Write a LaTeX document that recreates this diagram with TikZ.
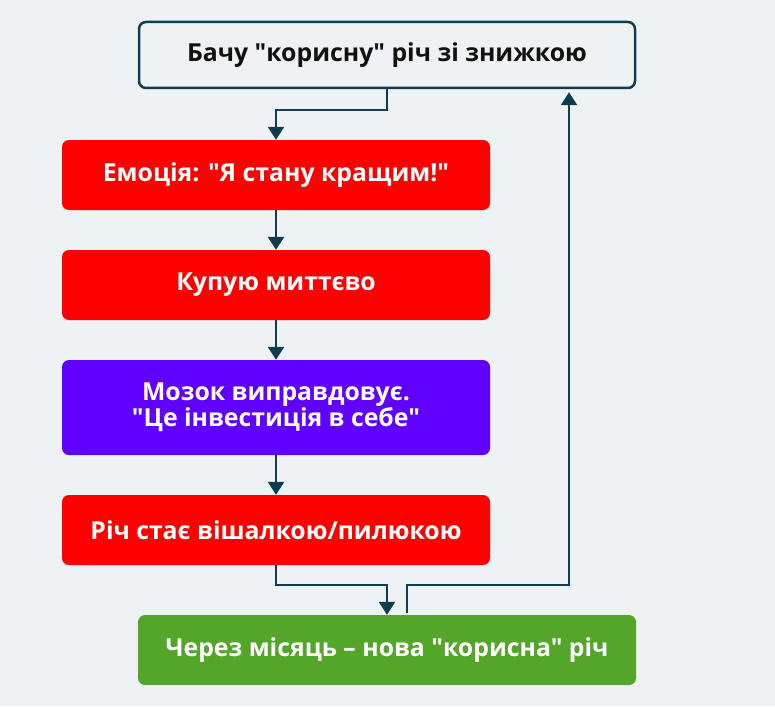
\documentclass[tikz,border=0pt]{standalone}
\usepackage{fontspec}
\setmainfont{Open Sans}[Ligatures=TeXOff]
\usetikzlibrary{arrows.meta,calc}
\definecolor{bgc}{HTML}{EFF2F4}
\definecolor{teal}{HTML}{0F3D4F}
\definecolor{redc}{HTML}{FF0000}
\definecolor{purc}{HTML}{6000FF}
\definecolor{grnc}{HTML}{53A62A}
\definecolor{txtd}{HTML}{111111}
\begin{document}
\begin{tikzpicture}[x=1pt,y=-1pt,
  box/.style={rounded corners=7pt, inner sep=0pt, align=center,
    font=\bfseries\fontsize{24.8}{25}\selectfont},
  outl/.style={box, draw=teal, line width=2.5pt, fill=bgc, text=txtd,
    minimum width=496pt, minimum height=66pt},
  redbox/.style={box, fill=redc, text=white, minimum width=428pt, minimum height=70pt},
  purbox/.style={box, fill=purc, text=white, minimum width=428pt, minimum height=95pt},
  grnbox/.style={box, fill=grnc, text=white, minimum width=498pt, minimum height=70pt},
  conn/.style={draw=teal, line width=2.5pt},
  arr/.style={conn, -{Triangle[width=16pt,length=13pt]}}]
\fill[bgc] (0,0) rectangle (775,706);
\useasboundingbox (0,0) rectangle (775,706);

\node[outl] (top) at (387,55) {Бачу "корисну" річ зі знижкою};
\node[redbox] (r1) at (276,175) {Емоція: "Я стану кращим!"};
\node[redbox] (r2) at (276,285) {Купую миттєво};
\node[purbox] (p) at (276,407.5) {Мозок виправдовує.\\"Це інвестиція в себе"};
\node[redbox] (r3) at (276,530) {Річ стає вішалкою/пилюкою};
\node[grnbox] (g) at (387,650) {Через місяць – нова "корисна" річ};

\draw[arr] (top.south) |- ($(r1.north)+(0,-30)$) -- (r1.north);
\draw[arr] (r1.south) -- (r2.north);
\draw[arr] (r2.south) -- (p.north);
\draw[arr] (p.south) -- (r3.north);
\draw[arr] (r3.south) |- ($(g.north)+(0,-30)$) -- (g.north);
\draw[arr] ($(g.north)+(20,-2)$) |- ($(g.north)+(182,-30)$) -- ($(top.south)+(182,3)$);
\end{tikzpicture}
\end{document}
